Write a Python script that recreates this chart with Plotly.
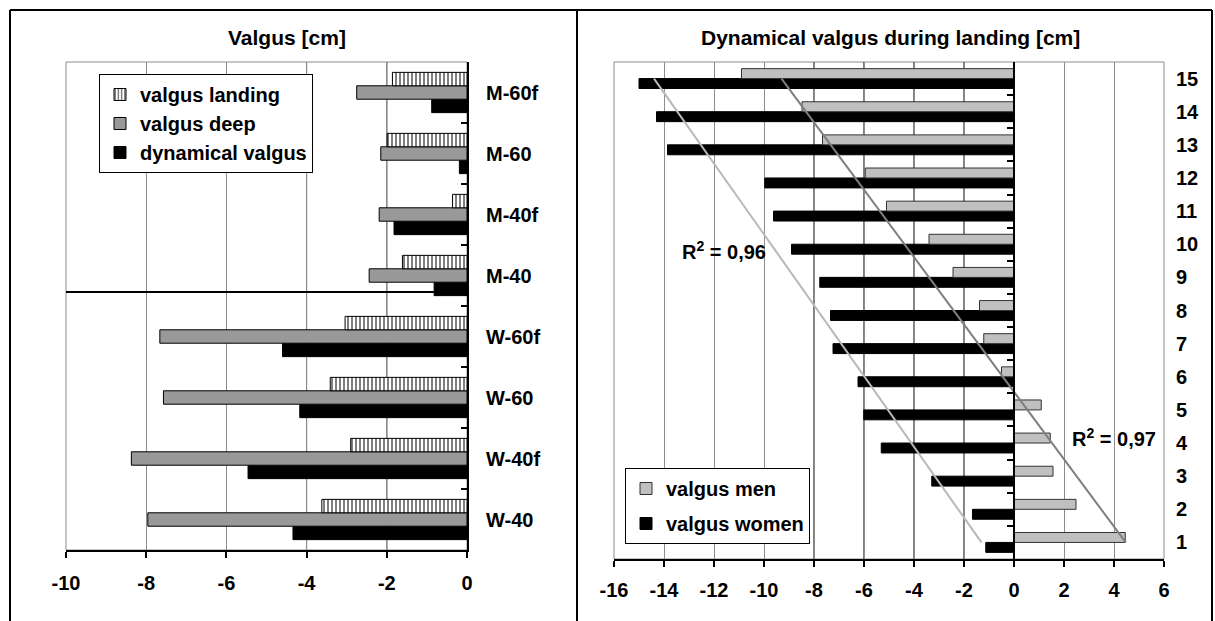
import plotly.graph_objects as go

W, H = 1215, 621

# ---------------- data ----------------
left_cats = ["W-40", "W-40f", "W-60", "W-60f", "M-40", "M-40f", "M-60", "M-60f"]
valgus_landing = [-3.62, -2.90, -3.41, -3.04, -1.61, -0.36, -1.99, -1.86]
valgus_deep = [-7.96, -8.37, -7.57, -7.66, -2.44, -2.19, -2.15, -2.75]
dynamical_valgus = [-4.34, -5.46, -4.17, -4.60, -0.82, -1.82, -0.19, -0.88]

right_cats = [str(i) for i in range(1, 16)]
valgus_men = [4.45, 2.48, 1.56, 1.45, 1.09, -0.50, -1.21, -1.38, -2.44, -3.40,
              -5.10, -5.95, -7.66, -8.48, -10.90]
valgus_women = [-1.13, -1.66, -3.29, -5.31, -6.01, -6.24, -7.24, -7.34, -7.77, -8.90,
                -9.62, -9.97, -13.86, -14.30, -15.00]
trend_cats = ["15", "1"]
trend_men = [-9.30, 4.47]
trend_women = [-14.40, -1.30]

left_ticks = [-10, -8, -6, -4, -2, 0]
left_ticktext = ["-10", "-8", "-6", "-4", "-2", "0"]
right_ticks = [-16, -14, -12, -10, -8, -6, -4, -2, 0, 2, 4, 6]
right_ticktext = ["-16", "-14", "-12", "-10", "-8", "-6", "-4", "-2", "0", "2", "4", "6"]
left_black_grid = [-4, -2]
right_black_grid = [-8, -6, -4, -2]

# ---------------- layout geometry ----------------
L_x = [66 / W, 467 / W]
L_y = [(H - 550) / H, (H - 62) / H]
R_x = [614 / W, 1164 / W]
R_y = [(H - 559) / H, (H - 62) / H]
R_xrange = [-16, 6]
zero_pos = R_x[0] + (0 - R_xrange[0]) / (R_xrange[1] - R_xrange[0]) * (R_x[1] - R_x[0])

FONT = "Arial, Liberation Sans, sans-serif"
fs = 20

fig = go.Figure()

# ---- left chart ----
fig.add_trace(go.Bar(y=left_cats, x=dynamical_valgus, orientation="h", name="dynamical valgus",
                     marker=dict(color="black", line=dict(color="black", width=1)),
                     width=0.22, offset=-0.33, xaxis="x", yaxis="y", legend="legend",
                     legendgroup="a", legendrank=3, hoverinfo="skip"))
fig.add_trace(go.Bar(y=left_cats, x=valgus_deep, orientation="h", name="valgus deep",
                     marker=dict(color="#999999", line=dict(color="black", width=1)),
                     width=0.22, offset=-0.11, xaxis="x", yaxis="y", legend="legend",
                     legendgroup="b", legendrank=2, hoverinfo="skip"))
fig.add_trace(go.Bar(y=left_cats, x=valgus_landing, orientation="h", name="valgus landing",
                     marker=dict(color="white", line=dict(color="black", width=1),
                                 pattern=dict(shape="|", fgcolor="black", bgcolor="white",
                                              size=4, solidity=0.5)),
                     width=0.22, offset=0.11, xaxis="x", yaxis="y", legend="legend",
                     legendgroup="c", legendrank=1, hoverinfo="skip"))

# ---- right chart ----
fig.add_trace(go.Bar(y=right_cats, x=valgus_women, orientation="h", name="valgus women",
                     marker=dict(color="black", line=dict(color="black", width=1)),
                     width=0.3, offset=-0.3, xaxis="x2", yaxis="y2", legend="legend2",
                     legendgroup="d", legendrank=2, hoverinfo="skip"))
fig.add_trace(go.Bar(y=right_cats, x=valgus_men, orientation="h", name="valgus men",
                     marker=dict(color="#c0c0c0", line=dict(color="#333333", width=1)),
                     width=0.3, offset=0.0, xaxis="x2", yaxis="y2", legend="legend2",
                     legendgroup="e", legendrank=1, hoverinfo="skip"))
fig.add_trace(go.Scatter(y=trend_cats, x=trend_women, mode="lines",
                         line=dict(color="#b8b8b8", width=2), showlegend=False,
                         xaxis="x2", yaxis="y2", hoverinfo="skip"))
fig.add_trace(go.Scatter(y=trend_cats, x=trend_men, mode="lines",
                         line=dict(color="#7f7f7f", width=2), showlegend=False,
                         xaxis="x2", yaxis="y2", hoverinfo="skip"))
# carrier for the zero-axis tick marks of the right chart
fig.add_trace(go.Scatter(y=right_cats, x=[0] * len(right_cats), mode="markers",
                         marker=dict(opacity=0), showlegend=False,
                         xaxis="x2", yaxis="y3", hoverinfo="skip"))

tickfont = dict(family=FONT, size=fs, color="black", weight="bold")

fig.update_layout(
    width=W, height=H, margin=dict(l=0, r=0, t=0, b=0, autoexpand=False),
    paper_bgcolor="white", plot_bgcolor="white",
    barmode="group", showlegend=True,
    font=dict(family=FONT, size=fs, color="black"),
    xaxis=dict(domain=L_x, anchor="y", range=[-10, 0], tickvals=left_ticks,
               ticktext=left_ticktext, showgrid=True, gridcolor="#8c8c8c", gridwidth=1,
               showline=True, linecolor="black", linewidth=2, ticks="outside",
               ticklen=6, tickwidth=2, tickcolor="black", zeroline=False,
               tickfont=tickfont, ticklabelstandoff=8, automargin=False),
    yaxis=dict(domain=L_y, anchor="x", side="right", type="category",
               categoryorder="array", categoryarray=left_cats, range=[-0.5, 7.5],
               showline=True, linecolor="black", linewidth=2, ticks="inside",
               tickson="boundaries", ticklen=6, tickwidth=2, tickcolor="black",
               showgrid=False, tickfont=tickfont, ticklabelstandoff=13, automargin=False),
    xaxis2=dict(domain=R_x, anchor="y2", range=R_xrange, tickvals=right_ticks,
                ticktext=right_ticktext, showgrid=True, gridcolor="#8c8c8c", gridwidth=1,
                showline=True, linecolor="black", linewidth=2, ticks="outside",
                ticklen=6, tickwidth=2, tickcolor="black", zeroline=False,
                tickfont=tickfont, ticklabelstandoff=6, automargin=False),
    yaxis2=dict(domain=R_y, anchor="x2", side="right", type="category",
                categoryorder="array", categoryarray=right_cats, range=[-0.5, 14.5],
                showline=False, ticks="", showgrid=False, tickfont=tickfont,
                ticklabelstandoff=11, automargin=False),
    yaxis3=dict(overlaying="y2", anchor="free", position=zero_pos, side="right",
                type="category", categoryorder="array", categoryarray=right_cats,
                range=[-0.5, 14.5], showline=True, linecolor="black", linewidth=2,
                ticks="inside", tickson="boundaries", ticklen=6, tickwidth=2,
                tickcolor="black", showgrid=False, showticklabels=False, automargin=False),
    legend=dict(x=99 / W, y=(H - 74) / H, xanchor="left", yanchor="top",
                bordercolor="black", borderwidth=1, bgcolor="white",
                traceorder="grouped", tracegroupgap=0, itemwidth=30,
                font=dict(family=FONT, size=fs, color="black", weight="bold")),
    legend2=dict(x=625 / W, y=(H - 468) / H, xanchor="left", yanchor="top",
                 bordercolor="black", borderwidth=1, bgcolor="white",
                 traceorder="grouped", tracegroupgap=6, itemwidth=30,
                 font=dict(family=FONT, size=fs, color="black", weight="bold")),
)

shapes = []
# plot-area borders (gray)
for xr, yr in (("x domain", "y domain"), ("x2 domain", "y2 domain")):
    shapes.append(dict(type="rect", xref=xr, yref=yr, x0=0, x1=1, y0=0, y1=1,
                       line=dict(color="#8c8c8c", width=1), layer="below"))
for v in left_black_grid:
    shapes.append(dict(type="line", xref="x", yref="y domain", x0=v, x1=v, y0=0, y1=1,
                       line=dict(color="black", width=1), layer="below"))
for v in right_black_grid:
    shapes.append(dict(type="line", xref="x2", yref="y2 domain", x0=v, x1=v, y0=0, y1=1,
                       line=dict(color="black", width=1), layer="below"))
# separator line between men and women groups in left chart
shapes.append(dict(type="line", xref="x", yref="y", x0=-10, x1=0, y0=3.73, y1=3.73,
                   line=dict(color="black", width=2), layer="above"))
# outer frame
top = 1 - 10 / H
shapes += [
    dict(type="line", xref="paper", yref="paper", x0=10 / W, x1=1212 / W, y0=top, y1=top,
         line=dict(color="black", width=2)),
    dict(type="line", xref="paper", yref="paper", x0=10 / W, x1=10 / W, y0=-0.01, y1=top,
         line=dict(color="black", width=2)),
    dict(type="line", xref="paper", yref="paper", x0=577 / W, x1=577 / W, y0=-0.01, y1=top,
         line=dict(color="black", width=2)),
    dict(type="line", xref="paper", yref="paper", x0=1212 / W, x1=1212 / W, y0=-0.01, y1=top,
         line=dict(color="black", width=2)),
]
fig.update_layout(shapes=shapes)

annots = [
    dict(text="<b>Valgus [cm]</b>", xref="paper", yref="paper", x=287 / W, y=1 - 37 / H,
         xanchor="center", yanchor="middle", showarrow=False,
         font=dict(family=FONT, size=21, color="black")),
    dict(text="<b>Dynamical valgus during landing [cm]</b>", xref="paper", yref="paper",
         x=891 / W, y=1 - 37 / H, xanchor="center", yanchor="middle", showarrow=False,
         font=dict(family=FONT, size=21, color="black")),
    dict(text="<b>R<sup>2</sup> = 0,96</b>", xref="x2", yref="y2", x=-11.6, y=8.82,
         xanchor="center", showarrow=False, font=dict(family=FONT, size=fs, color="black")),
    dict(text="<b>R<sup>2</sup> = 0,97</b>", xref="x2", yref="y2", x=3.99, y=3.17,
         xanchor="center", showarrow=False, font=dict(family=FONT, size=fs, color="black")),
]
fig.update_layout(annotations=annots)

fig.write_html("out.html", config={"displayModeBar": False},
               post_script="document.body.style.margin='0';")
